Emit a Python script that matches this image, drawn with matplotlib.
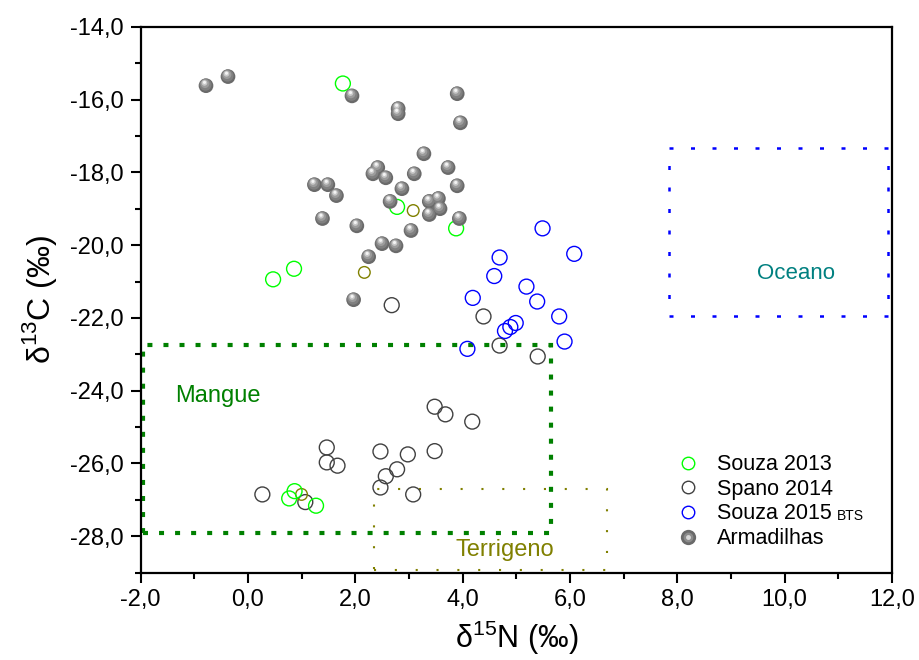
import numpy as np
import matplotlib
matplotlib.use('Agg')
import matplotlib.pyplot as plt
from matplotlib.patches import Rectangle
from matplotlib.lines import Line2D
from matplotlib.legend_handler import HandlerTuple
from matplotlib.transforms import offset_copy

plt.rcParams['font.family'] = ['Liberation Sans', 'DejaVu Sans']
plt.rcParams['mathtext.fontset'] = 'custom'
plt.rcParams['mathtext.rm'] = 'Liberation Sans'

# Souza 2013 (green open circles)
souza13_n = [1.77, 2.78, 3.88, 0.86, 0.47, 0.87, 0.77, 1.27]
souza13_c = [-15.56, -18.95, -19.54, -20.65, -20.94, -26.76, -26.96, -27.16]

# Spano 2014 (dark open circles)
spano_n = [2.68, 4.39, 4.69, 5.40, 3.48, 3.68, 4.18, 1.47, 2.47, 2.98,
           3.48, 1.47, 1.67, 2.78, 2.57, 2.47, 3.08, 0.27, 1.07]
spano_c = [-21.65, -21.96, -22.76, -23.06, -24.44, -24.65, -24.85, -25.56, -25.67, -25.75,
           -25.66, -25.97, -26.06, -26.16, -26.35, -26.66, -26.85, -26.85, -27.06]

# Souza 2015 BTS (blue open circles)
souza15_n = [5.49, 6.08, 4.69, 4.59, 5.19, 4.19, 5.39, 5.80, 4.99, 4.89, 4.79, 5.90, 4.09]
souza15_c = [-19.54, -20.24, -20.34, -20.85, -21.14, -21.45, -21.55, -21.96, -22.14,
             -22.25, -22.36, -22.65, -22.85]

# small olive circles (not in legend)
olive_n = [3.08, 2.17, 1.00]
olive_c = [-19.05, -20.75, -26.85]

# Armadilhas (grey spheres)
arm_n = [-0.78, -0.37, 1.94, 2.80, 2.80, 3.90, 3.96, 3.28, 2.42, 2.33, 2.57, 3.10, 3.73,
         1.24, 1.49, 1.65, 2.87, 3.90, 2.65, 3.38, 3.55, 3.58, 3.38, 3.94, 1.39, 2.03,
         3.04, 2.50, 2.76, 2.25, 1.97]
arm_c = [-15.62, -15.37, -15.90, -16.25, -16.39, -15.84, -16.64, -17.49, -17.87, -18.04,
         -18.15, -18.04, -17.87, -18.34, -18.34, -18.64, -18.45, -18.37, -18.80, -18.80,
         -18.72, -19.00, -19.16, -19.27, -19.27, -19.47, -19.60, -19.96, -20.02, -20.32,
         -21.50]

# source boxes: (x0, x1, y0, y1)
mangue_box = (-1.95, 5.65, -27.9, -22.75)
terr_box = (2.35, 6.7, -28.92, -26.7)
oceano_box = (7.85, 11.93, -21.95, -17.33)

x_ticks = [-2, 0, 2, 4, 6, 8, 10, 12]
y_ticks = [-28, -26, -24, -22, -20, -18, -16, -14]

fig = plt.figure(figsize=(9.19, 6.6), dpi=100)
ax = fig.add_axes([0.1529, 0.1323, 0.8177, 0.8272])

def box(b, color, lw, dash):
    r = Rectangle((b[0], b[2]), b[1] - b[0], b[3] - b[2], fill=False,
                  edgecolor=color, linewidth=lw, linestyle=(0, dash), zorder=2)
    ax.add_patch(r)

box(mangue_box, '#008000', 3.0, (1.2, 2.65))
box(terr_box, '#808000', 1.5, (1.0, 9.0))
box(oceano_box, '#0000ff', 1.8, (1.6, 7.0))

ax.text(-0.56, -24.15, 'Mangue', color='#008000', fontsize=17, ha='center', va='center')
ax.text(4.79, -28.37, 'Terrigeno', color='#808000', fontsize=17, ha='center', va='center')
ax.text(10.21, -20.79, 'Oceano', color='#008080', fontsize=16, ha='center', va='center')

# open circles
ax.scatter(spano_n, spano_c, s=115, facecolors='none', edgecolors='#404040', linewidths=1.0, zorder=3)
ax.scatter(souza15_n, souza15_c, s=115, facecolors='none', edgecolors='#0000ff', linewidths=1.0, zorder=3)
ax.scatter(olive_n, olive_c, s=70, facecolors='none', edgecolors='#808000', linewidths=1.0, zorder=3)
ax.scatter(souza13_n, souza13_c, s=115, facecolors='none', edgecolors='#00ff00', linewidths=1.0, zorder=3)

# shaded spheres built from stacked circles
layers = [(112, '#6a6a6a', 0, 0), (75, '#808080', -0.5, 1.0), (40, '#9c9c9c', -1.0, 2.0),
          (17, '#c8c8c8', -1.5, 2.8), (5, '#f4f4f4', -1.5, 3.3)]
for s, col, dx, dy in layers:
    tr = offset_copy(ax.transData, fig=fig, x=dx, y=dy, units='dots')
    ax.scatter(arm_n, arm_c, s=s, color=col, edgecolors='none', transform=tr, zorder=4)

ax.set_xlim(-2, 12)
ax.set_ylim(-29, -14)
ax.set_xticks(x_ticks)
ax.set_yticks(y_ticks)
ax.set_xticks(np.arange(-1, 12, 2), minor=True)
ax.set_yticks(np.arange(-29, -14, 2), minor=True)
ax.set_xticklabels([f'{v:.1f}'.replace('.', ',') for v in x_ticks])
ax.set_yticklabels([f'{v:.1f}'.replace('.', ',') for v in y_ticks])
ax.tick_params(which='major', direction='out', length=7, width=1.5, labelsize=17, pad=5)
ax.tick_params(which='minor', direction='out', length=4, width=1.5)
for sp in ax.spines.values():
    sp.set_linewidth(1.6)

ax.set_xlabel('δ$^{15}$N (‰)', fontsize=22, labelpad=5)
ax.set_ylabel('δ$^{13}$C (‰)', fontsize=23, labelpad=8)

h1 = Line2D([], [], ls='none', marker='o', ms=9, mfc='none', mec='#00ff00', mew=1.0)
h2 = Line2D([], [], ls='none', marker='o', ms=9, mfc='none', mec='#404040', mew=1.0)
h3 = Line2D([], [], ls='none', marker='o', ms=9, mfc='none', mec='#0000ff', mew=1.0)
h4 = (Line2D([], [], ls='none', marker='o', ms=11, mfc='#6a6a6a', mec='none'),
      Line2D([], [], ls='none', marker='o', ms=7, mfc='#8c8c8c', mec='none'),
      Line2D([], [], ls='none', marker='o', ms=3.5, mfc='#d8d8d8', mec='none'))
leg = ax.legend([h1, h2, h3, h4], ['Souza 2013', 'Spano 2014', 'Souza 2015', 'Armadilhas'],
                handler_map={tuple: HandlerTuple(ndivide=1)},
                loc='upper left', bbox_to_anchor=(0.703, 0.233), frameon=False,
                fontsize=15.5, labelspacing=0.17, handlelength=1.0, handletextpad=0.85,
                borderaxespad=0)

fig.canvas.draw()
bb = leg.get_texts()[2].get_window_extent()
fig.text((bb.x1 + 5) / fig.bbox.width, (bb.y0 + 4) / fig.bbox.height, 'BTS', fontsize=10,
         ha='left', va='baseline')

fig.savefig('out.png', dpi=100)
